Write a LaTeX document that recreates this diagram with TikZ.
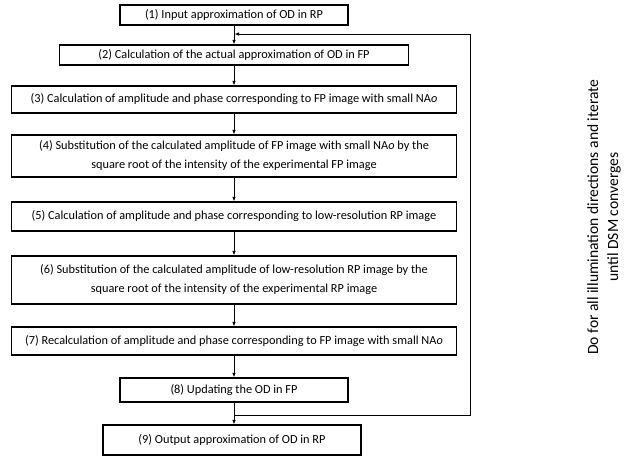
\documentclass[tikz,border=0pt]{standalone}
\usepackage{fontspec}
\setmainfont{Carlito}
\usetikzlibrary{arrows.meta}
\begin{document}
\begin{tikzpicture}[x=1pt,y=-1pt,
  stepbox/.style={draw,line width=1.1pt,inner sep=0pt,align=center,font=\fontsize{12.3}{19}\selectfont},
  flow/.style={line width=0.9pt,-{Latex[length=4.5pt,width=3.5pt]}},
  loopline/.style={line width=0.9pt}]
\useasboundingbox (0,0) rectangle (644,462);
\node[stepbox,minimum width=228,minimum height=20] (b1) at (234,15) {(1) Input approximation of OD in RP};
\node[stepbox,minimum width=349,minimum height=20] (b2) at (234,55) {(2) Calculation of the actual approximation of OD in FP};
\node[stepbox,minimum width=445,minimum height=27] (b3) at (234,99.5) {(3) Calculation of amplitude and phase corresponding to FP image with small NA\textit{o}};
\node[stepbox,minimum width=445,minimum height=42] (b4) at (234,156) {(4) Substitution of the calculated amplitude of FP image with small NA\textit{o} by the\\square root of the intensity of the experimental FP image};
\node[stepbox,minimum width=445,minimum height=29] (b5) at (234,216.5) {(5) Calculation of amplitude and phase corresponding to low-resolution RP image};
\node[stepbox,minimum width=445,minimum height=48] (b6) at (234,280) {(6) Substitution of the calculated amplitude of low-resolution RP image by the\\square root of the intensity of the experimental RP image};
\node[stepbox,minimum width=445,minimum height=28] (b7) at (234,341) {(7) Recalculation of amplitude and phase corresponding to FP image with small NA\textit{o}};
\node[stepbox,minimum width=228,minimum height=24] (b8) at (234,390) {(8) Updating the OD in FP};
\node[stepbox,minimum width=258,minimum height=30] (b9) at (232,440) {(9) Output approximation of OD in RP};
\draw[flow] (b1) -- (b2);
\draw[flow] (b2) -- (b3);
\draw[flow] (b3) -- (b4);
\draw[flow] (b4) -- (b5);
\draw[flow] (b5) -- (b6);
\draw[flow] (b6) -- (b7);
\draw[flow] (b7) -- (b8);
\draw[flow] (b8.south) -- (b8.south |- b9.north);
\coordinate (j1) at (234,415);
\coordinate (c1) at (470,415);
\coordinate (c2) at (470,34);
\coordinate (j2) at (234.5,34);
\draw[loopline] (j1) -- (c1) -- (c2);
\draw[flow] (c2) -- (j2);
\node[rotate=90,align=center,font=\fontsize{15.6}{20}\selectfont] (lbl) at (604,217) {Do for all illumination directions and iterate\\until DSM converges};
\end{tikzpicture}
\end{document}
